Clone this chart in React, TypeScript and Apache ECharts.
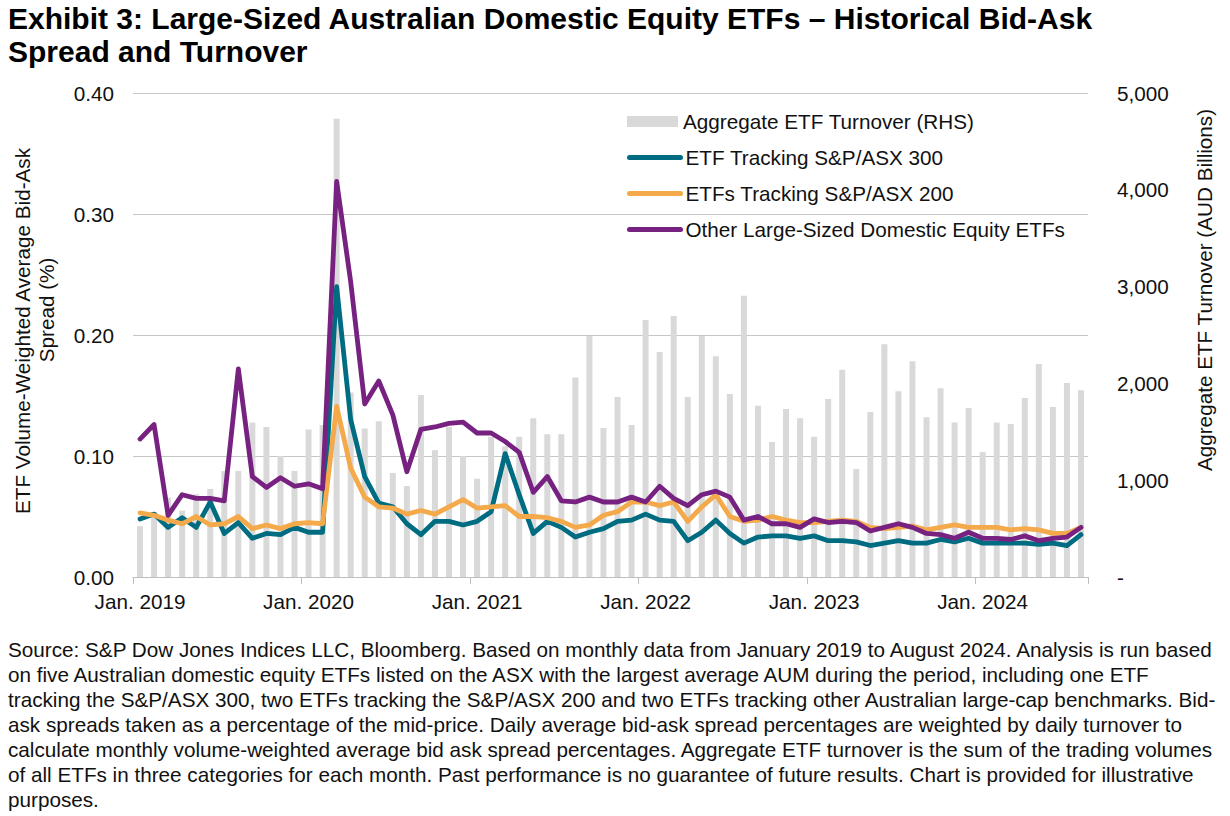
import React, { useEffect, useRef } from "react";
import * as echarts from "echarts";

const FONT = '"Liberation Sans", Arial, sans-serif';
const FS = 20.7;

const monthNames = ["Jan.", "Feb.", "Mar.", "Apr.", "May", "Jun.", "Jul.", "Aug.", "Sep.", "Oct.", "Nov.", "Dec."];
const years = [2019, 2020, 2021, 2022, 2023, 2024];
const lastMonthCount2024 = 8;

const categories: string[] = [];
years.forEach((y) => {
  const n = y === 2024 ? lastMonthCount2024 : 12;
  for (let m = 0; m < n; m++) categories.push(`${monthNames[m]} ${y}`);
});

// Aggregate ETF turnover (AUD billions), RHS
const turnover = [
  525, 670, 820, 685, 855, 910, 1095, 1095, 1595, 1550, 1250, 1095,
  1525, 1570, 4735, 1905, 1535, 1610, 1075, 940, 1880, 1310, 1550, 1250,
  1015, 1450, 1350, 1450, 1640, 1475, 1475, 2060, 2490, 1540, 1860, 1570,
  2655, 2325, 2695, 1860, 2490, 2280, 1890, 2905, 1770, 1395, 1735, 1640,
  1450, 1840, 2140, 1115, 1705, 2405, 1920, 2230, 1650, 1950, 1595, 1745,
  1290, 1595, 1580, 1850, 2200, 1755, 2005, 1930,
];

// ETF Tracking S&P/ASX 300
const asx300 = [
  0.048, 0.052, 0.041, 0.049, 0.041, 0.062, 0.036, 0.045, 0.032, 0.036, 0.035, 0.041,
  0.037, 0.037, 0.240, 0.130, 0.083, 0.061, 0.058, 0.044, 0.035, 0.046, 0.046, 0.043,
  0.046, 0.054, 0.102, 0.068, 0.036, 0.046, 0.041, 0.033, 0.037, 0.040, 0.046, 0.047,
  0.052, 0.047, 0.046, 0.030, 0.037, 0.047, 0.036, 0.028, 0.033, 0.034, 0.034, 0.032,
  0.034, 0.030, 0.030, 0.029, 0.026, 0.028, 0.030, 0.028, 0.028, 0.031, 0.029, 0.032,
  0.028, 0.028, 0.028, 0.028, 0.027, 0.028, 0.026, 0.035,
];

// ETFs Tracking S&P/ASX 200
const asx200 = [
  0.053, 0.051, 0.047, 0.044, 0.050, 0.043, 0.044, 0.050, 0.040, 0.043, 0.040, 0.044,
  0.045, 0.044, 0.141, 0.090, 0.066, 0.058, 0.057, 0.052, 0.055, 0.052, 0.058, 0.064,
  0.057, 0.058, 0.059, 0.050, 0.050, 0.049, 0.046, 0.041, 0.043, 0.051, 0.054, 0.062,
  0.062, 0.059, 0.062, 0.046, 0.058, 0.068, 0.050, 0.046, 0.047, 0.050, 0.047, 0.045,
  0.045, 0.046, 0.047, 0.046, 0.041, 0.040, 0.041, 0.042, 0.039, 0.041, 0.043, 0.041,
  0.041, 0.041, 0.039, 0.040, 0.039, 0.036, 0.036, 0.041,
];

// Other Large-Sized Domestic Equity ETFs
const otherEtfs = [
  0.114, 0.126, 0.051, 0.068, 0.065, 0.065, 0.063, 0.172, 0.083, 0.074, 0.082, 0.075,
  0.077, 0.073, 0.327, 0.244, 0.143, 0.162, 0.134, 0.087, 0.122, 0.124, 0.127, 0.128,
  0.119, 0.119, 0.112, 0.103, 0.070, 0.083, 0.063, 0.062, 0.066, 0.062, 0.062, 0.066,
  0.062, 0.075, 0.065, 0.059, 0.068, 0.071, 0.066, 0.047, 0.050, 0.044, 0.044, 0.041,
  0.048, 0.045, 0.046, 0.045, 0.038, 0.041, 0.044, 0.041, 0.036, 0.035, 0.032, 0.037,
  0.032, 0.032, 0.031, 0.034, 0.030, 0.032, 0.033, 0.041,
];

const seriesNames = [
  "Aggregate ETF Turnover (RHS)",
  "ETF Tracking S&P/ASX 300",
  "ETFs Tracking S&P/ASX 200",
  "Other Large-Sized Domestic Equity ETFs",
];

const titleLines = [
  "Exhibit 3: Large-Sized Australian Domestic Equity ETFs \u2013 Historical Bid-Ask",
  "Spread and Turnover",
];

const footLines = [
  "Source: S&P Dow Jones Indices LLC, Bloomberg. Based on monthly data from January 2019 to August 2024. Analysis is run based",
  "on five Australian domestic equity ETFs listed on the ASX with the largest average AUM during the period, including one ETF",
  "tracking the S&P/ASX 300, two ETFs tracking the S&P/ASX 200 and two ETFs tracking other Australian large-cap benchmarks. Bid-",
  "ask spreads taken as a percentage of the mid-price. Daily average bid-ask spread percentages are weighted by daily turnover to",
  "calculate monthly volume-weighted average bid ask spread percentages. Aggregate ETF turnover is the sum of the trading volumes",
  "of all ETFs in three categories for each month. Past performance is no guarantee of future results. Chart is provided for illustrative",
  "purposes.",
];

const leftAxisName = ["ETF Volume-Weighted Average Bid-Ask", "Spread (%)"];
const rightAxisName = "Aggregate ETF Turnover (AUD Billions)";

const COLORS = {
  bar: "#d9d9d9",
  teal: "#006c82",
  orange: "#f4a94b",
  purple: "#772181",
  grid: "#c6c6c6",
  text: "#111111",
};

export default function App() {
  const ref = useRef<HTMLDivElement>(null);

  useEffect(() => {
    if (!ref.current) return;
    const chart = echarts.init(ref.current, undefined, { renderer: "svg" });

    const lineColors = [COLORS.teal, COLORS.orange, COLORS.purple];
    const lineData = [asx300, asx200, otherEtfs];
    const legendCenters = [122, 158, 194, 230];

    const legends = seriesNames.map((n, i) => ({
      data: [n],
      left: 627,
      top: legendCenters[i] - 11,
      padding: 0,
      orient: "horizontal",
      itemWidth: 51,
      itemHeight: i === 0 ? 11 : 14,
      itemGap: 0,
      selectedMode: false,
      icon: i === 0 ? "rect" : undefined,
      itemStyle: i === 0 ? { color: COLORS.bar } : { opacity: 0 },
      lineStyle: i === 0 ? undefined : { width: 5, cap: "round", color: lineColors[i - 1] },
      textStyle: { fontSize: FS, color: COLORS.text, fontFamily: FONT, padding: [0, 0, 0, 0] },
    }));

    const graphics: any[] = [];
    titleLines.forEach((t, i) => {
      graphics.push({
        type: "text",
        x: 8,
        y: 18 + 33.4 * i,
        style: {
          text: t,
          fontSize: 30,
          fontWeight: "bold",
          fontFamily: FONT,
          fill: "#000",
          align: "left",
          verticalAlign: "middle",
        },
      });
    });
    footLines.forEach((t, i) => {
      graphics.push({
        type: "text",
        x: 8,
        y: 649 + 25.1 * i,
        style: {
          text: t,
          fontSize: FS,
          fontFamily: FONT,
          fill: COLORS.text,
          align: "left",
          verticalAlign: "middle",
        },
      });
    });
    graphics.push({
      type: "text",
      x: 22,
      y: 331,
      rotation: Math.PI / 2,
      style: { text: leftAxisName[0], fontSize: FS, fontFamily: FONT, fill: COLORS.text, align: "center", verticalAlign: "middle" },
    });
    graphics.push({
      type: "text",
      x: 46,
      y: 310,
      rotation: Math.PI / 2,
      style: { text: leftAxisName[1], fontSize: FS, fontFamily: FONT, fill: COLORS.text, align: "center", verticalAlign: "middle" },
    });
    graphics.push({
      type: "text",
      x: 1204,
      y: 290,
      rotation: Math.PI / 2,
      style: { text: rightAxisName, fontSize: FS, fontFamily: FONT, fill: COLORS.text, align: "center", verticalAlign: "middle" },
    });

    const option: any = {
      animation: false,
      backgroundColor: "#ffffff",
      textStyle: { fontFamily: FONT },
      grid: { left: 133, right: 142, top: 93, bottom: 239, containLabel: false },
      legend: legends,
      graphic: graphics,
      xAxis: {
        type: "category",
        data: categories,
        boundaryGap: true,
        axisLine: { show: true, lineStyle: { color: "#bfbfbf", width: 1 } },
        axisTick: { show: true, interval: 11, length: 7, lineStyle: { color: "#bfbfbf" } },
        axisLabel: {
          interval: 11,
          fontSize: FS,
          color: COLORS.text,
          fontFamily: FONT,
          margin: 14,
        },
        splitLine: { show: false },
      },
      yAxis: [
        {
          type: "value",
          min: 0,
          max: 0.4,
          interval: 0.1,
          axisLine: { show: false },
          axisTick: { show: false },
          axisLabel: {
            fontSize: FS,
            color: COLORS.text,
            fontFamily: FONT,
            margin: 19,
            formatter: (v: number) => v.toFixed(2),
          },
          splitLine: { show: true, lineStyle: { color: COLORS.grid, width: 1 } },
        },
        {
          type: "value",
          min: 0,
          max: 5000,
          interval: 1000,
          position: "right",
          axisLine: { show: false },
          axisTick: { show: false },
          axisLabel: {
            fontSize: FS,
            color: COLORS.text,
            fontFamily: FONT,
            margin: 29,
            formatter: (v: number) => (v === 0 ? "-" : v.toLocaleString("en-US")),
          },
          splitLine: { show: false },
        },
      ],
      series: [
        {
          name: seriesNames[0],
          type: "bar",
          yAxisIndex: 1,
          data: turnover,
          barWidth: 6,
          itemStyle: { color: COLORS.bar },
          z: 1,
        },
        ...lineData.map((d, i) => ({
          name: seriesNames[i + 1],
          type: "line",
          yAxisIndex: 0,
          data: d,
          symbol: "none",
          showSymbol: false,
          itemStyle: { color: lineColors[i] },
          lineStyle: { width: 4.8, color: lineColors[i], cap: "round", join: "round" },
          z: 3 + i,
        })),
      ],
    };

    chart.setOption(option);
    return () => {
      chart.dispose();
    };
  }, []);

  return (
    <div
      ref={ref}
      style={{ position: "absolute", left: 0, top: 0, width: 1230, height: 816, background: "#fff" }}
    />
  );
}
